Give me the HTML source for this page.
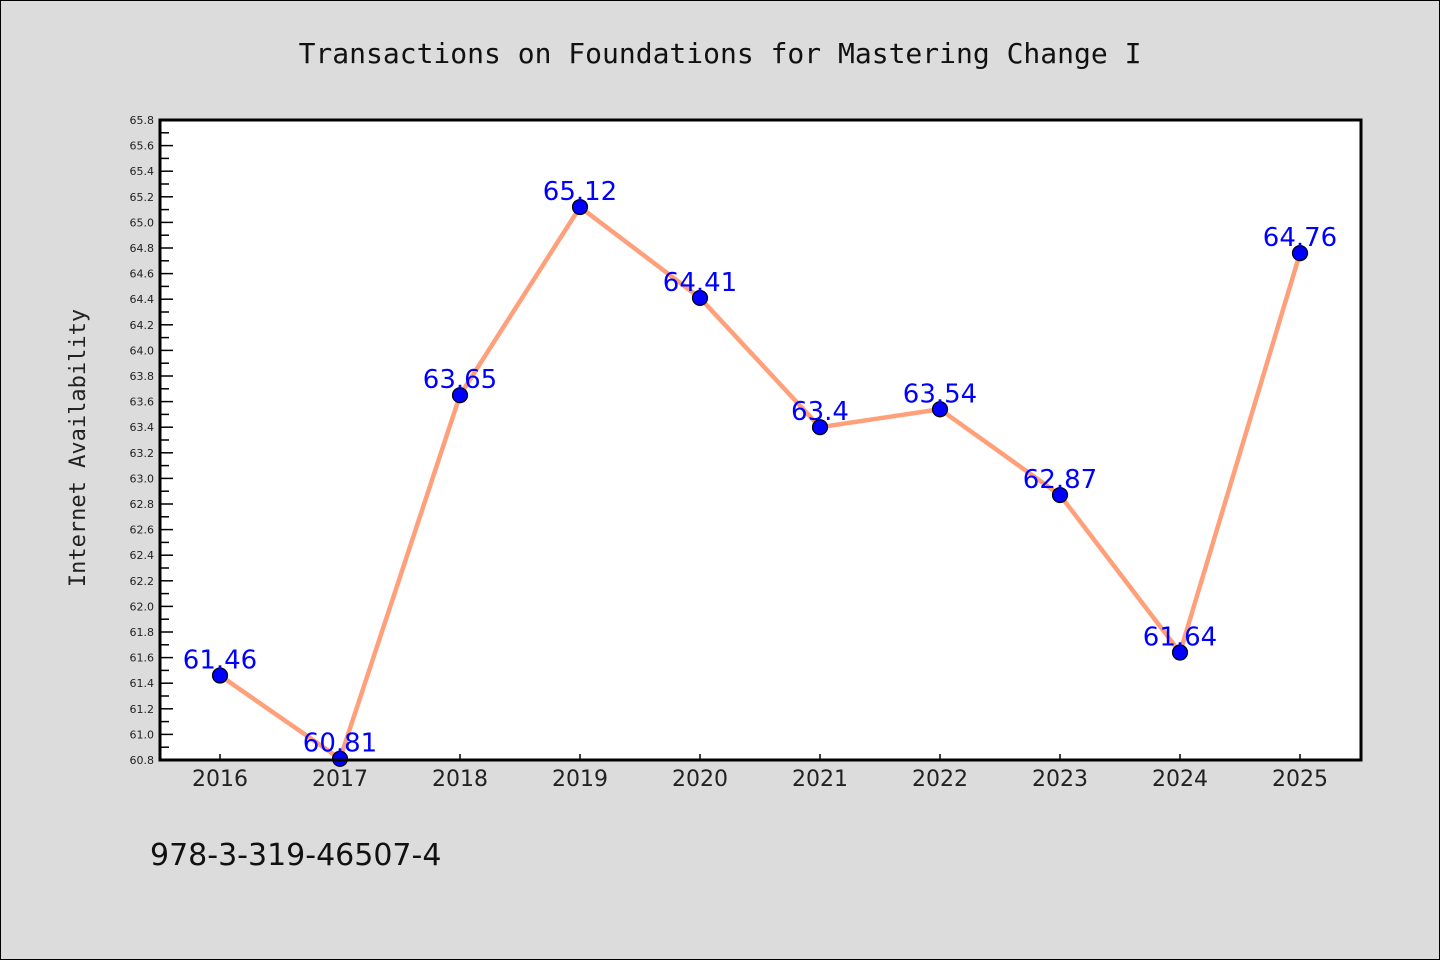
<!DOCTYPE html>
<html><head><meta charset="utf-8"><style>
body{margin:0;background:#dcdcdc}
svg{display:block}
</style></head><body>
<svg id="chart" width="1440" height="960" xmlns="http://www.w3.org/2000/svg">
<rect x="0.5" y="0.5" width="1439" height="959" fill="#dcdcdc" stroke="#000"/>
<text x="720" y="63" text-anchor="middle" font-family="DejaVu Sans Mono, monospace" font-size="28" fill="#111">Transactions on Foundations for Mastering Change I</text>
<text transform="translate(85,448) rotate(-90)" text-anchor="middle" font-family="DejaVu Sans Mono, monospace" font-size="22" fill="#222">Internet Availability</text>
<text x="150" y="865" font-family="DejaVu Sans, sans-serif" font-size="30" fill="#111">978-3-319-46507-4</text>
<rect x="160" y="120" width="1201" height="640" fill="#fff"/>
<g id="ticks"></g>
<g id="marks"></g>
<rect x="160" y="120" width="1201" height="640" fill="none" stroke="#000" stroke-width="3"/>
</svg>
<script>
const categories = ["2016","2017","2018","2019","2020","2021","2022","2023","2024","2025"];
const values = [61.46,60.81,63.65,65.12,64.41,63.4,63.54,62.87,61.64,64.76];
const labels = ["61.46","60.81","63.65","65.12","64.41","63.4","63.54","62.87","61.64","64.76"];
const yMin = 60.8, yMax = 65.8;
const NS="http://www.w3.org/2000/svg";
const L=160,R=1361,T=120,B=760;
function x(i){return 220+i*120;}
function y(v){return B-(v-yMin)/(yMax-yMin)*(B-T);}
function mk(tag,attrs,parent){const e=document.createElementNS(NS,tag);for(const k in attrs)e.setAttribute(k,attrs[k]);parent.appendChild(e);return e;}
const tg=document.getElementById('ticks');
for(let k=0;k<=50;k++){
  const v=yMin+k*0.1, yy=y(v);
  const major=k%2===0;
  const t=mk('line',{x1:L,x2:L+(major?13:9),y1:yy,y2:yy,stroke:'#000','stroke-width':1.5},tg);
  
  
  if(major){
    const tx=mk('text',{x:L-6,y:yy+4,'text-anchor':'end','font-family':'DejaVu Sans, sans-serif','font-size':11,fill:'#222'},tg);
    tx.textContent=v.toFixed(1);
    
    
  }
}
categories.forEach((c,i)=>{
  const t=mk('line',{x1:x(i),x2:x(i),y1:B,y2:B-6,stroke:'#000','stroke-width':1.5},tg);
  
  
  const tx=mk('text',{x:x(i),y:B+26,'text-anchor':'middle','font-family':'DejaVu Sans, sans-serif','font-size':22,fill:'#222'},tg);
  tx.textContent=c;
  
  
});
const mg=document.getElementById('marks');
const pl=mk('polyline',{points:values.map((v,i)=>x(i)+','+y(v)).join(' '),fill:'none',stroke:'#ffa07a','stroke-width':4.5,'stroke-linejoin':'round'},mg);


values.forEach((v,i)=>{
  const c=mk('circle',{cx:x(i),cy:y(v),r:7.5,fill:'#0000ff',stroke:'#000','stroke-width':1.2},mg);
  
  
  const t=mk('text',{x:x(i),y:y(v)-7,'text-anchor':'middle','font-family':'DejaVu Sans, sans-serif','font-size':26,fill:'#0000ff'},mg);
  t.textContent=labels[i];
  
  
});
</script>
</body></html>
